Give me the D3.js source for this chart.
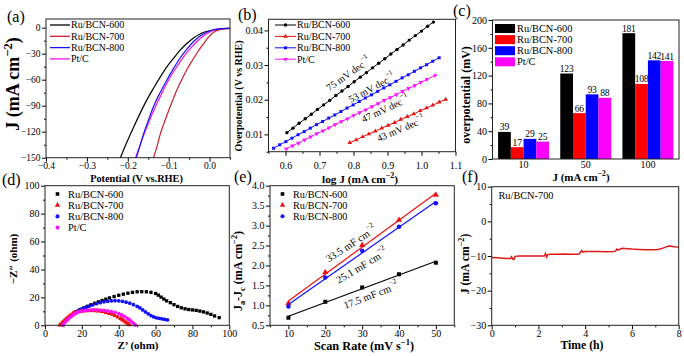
<!DOCTYPE html>
<html>
<head>
<meta charset="utf-8">
<script src="https://cdn.jsdelivr.net/npm/d3@7"></script>
<style>
    body { margin: 0; background: #fff; }
    svg { display: block; }
    svg text { font-family: "Liberation Serif", "Times New Roman", serif; }
</style>
</head>
<body>
<div id="chart"></div>
<script>
// ---- Data ----
const names = ['Ru/BCN-600', 'Ru/BCN-700', 'Ru/BCN-800', 'Pt/C'];
const colors = ['#000000', '#ee1010', '#1010ff', '#ff10ff'];

// (a) LSV curves
const lsvV600 = [-0.218, -0.202, -0.185, -0.169, -0.153, -0.136, -0.120, -0.104, -0.088, -0.072, -0.055, -0.039, -0.023, -0.012, 0.000, 0.013, 0.026, 0.038, 0.050];
const lsvJ600 = [-150, -132, -114, -98, -83, -69, -56.5, -45, -35.3, -26, -18, -11.8, -7.3, -5.0, -3.6, -2.4, -1.5, -1.0, -0.8];
const lsvV700 = [-0.137, -0.128, -0.120, -0.112, -0.104, -0.092, -0.080, -0.068, -0.056, -0.043, -0.031, -0.021, -0.011, -0.003, 0.005, 0.011, 0.017, 0.028, 0.042, 0.050];
const lsvJ700 = [-150, -136, -122, -111, -100.7, -86, -71.9, -60, -48.8, -38.5, -29.5, -22.5, -16.1, -11.2, -7.3, -5.0, -3.4, -2.0, -1.2, -1.0];
const lsvV800 = [-0.179, -0.170, -0.161, -0.149, -0.137, -0.121, -0.104, -0.088, -0.072, -0.056, -0.039, -0.027, -0.015, -0.006, 0.000, 0.010, 0.020, 0.030, 0.040, 0.050];
const lsvJ800 = [-150, -136, -122, -106, -91, -75, -60, -47, -35, -25, -16, -11, -7.3, -5.0, -3.8, -2.4, -1.6, -1.1, -0.9, -0.8];
const lsvVPt = [-0.181, -0.171, -0.161, -0.147, -0.132, -0.116, -0.100, -0.082, -0.064, -0.047, -0.031, -0.019, -0.008, 0.000, 0.006, 0.013, 0.022, 0.032, 0.042, 0.050];
const lsvJPt = [-150, -137, -124, -107, -91, -75, -60, -46.5, -34, -24, -16, -11, -7.3, -5.2, -3.8, -2.5, -1.6, -1.1, -0.9, -0.8];

// (b) Tafel
const tafX600 = [0.604, 0.622, 0.640, 0.658, 0.676, 0.694, 0.712, 0.730, 0.748, 0.766, 0.784, 0.802, 0.820, 0.838, 0.856, 0.874, 0.892, 0.910, 0.928, 0.946, 0.964, 0.982, 1.000, 1.018, 1.035];
const tafY600 = [0.0105, 0.0118, 0.0132, 0.0145, 0.0158, 0.0172, 0.0185, 0.0198, 0.0212, 0.0225, 0.0238, 0.0252, 0.0265, 0.0278, 0.0292, 0.0305, 0.0318, 0.0332, 0.0345, 0.0358, 0.0372, 0.0385, 0.0398, 0.0412, 0.0424];
const tafX700 = [0.789, 0.808, 0.827, 0.845, 0.864, 0.883, 0.902, 0.921, 0.939, 0.958, 0.977, 0.996, 1.015, 1.033, 1.052, 1.071];
const tafY700 = [0.0076, 0.0084, 0.0093, 0.0101, 0.0109, 0.0118, 0.0126, 0.0134, 0.0143, 0.0151, 0.0159, 0.0168, 0.0176, 0.0184, 0.0193, 0.0201];
const tafX800 = [0.565, 0.583, 0.601, 0.619, 0.637, 0.655, 0.673, 0.691, 0.709, 0.727, 0.745, 0.763, 0.781, 0.799, 0.817, 0.835, 0.853, 0.871, 0.889, 0.907, 0.925, 0.943, 0.961, 0.979, 0.997, 1.015, 1.033, 1.052];
const tafY800 = [0.0060, 0.0070, 0.0079, 0.0089, 0.0099, 0.0108, 0.0118, 0.0128, 0.0137, 0.0147, 0.0156, 0.0166, 0.0176, 0.0185, 0.0195, 0.0205, 0.0214, 0.0224, 0.0234, 0.0243, 0.0253, 0.0263, 0.0272, 0.0282, 0.0292, 0.0301, 0.0311, 0.0321];
const tafXPt = [0.602, 0.620, 0.638, 0.656, 0.674, 0.692, 0.710, 0.728, 0.746, 0.764, 0.782, 0.800, 0.818, 0.836, 0.854, 0.872, 0.890, 0.908, 0.926, 0.944, 0.962, 0.980, 0.998, 1.016, 1.040];
const tafYPt = [0.0058, 0.0067, 0.0075, 0.0084, 0.0093, 0.0102, 0.0110, 0.0119, 0.0128, 0.0137, 0.0145, 0.0154, 0.0163, 0.0171, 0.0180, 0.0189, 0.0198, 0.0206, 0.0215, 0.0224, 0.0233, 0.0241, 0.0250, 0.0259, 0.0270];
const tafelLabels = ['75 mV dec', '43 mV dec', '53 mV dec', '47 mV dec'];

// (c) overpotentials
const currents = ['10', '50', '100'];
const eta600 = [39, 123, 181];
const eta700 = [17, 66, 108];
const eta800 = [29, 93, 142];
const etaPt = [25, 88, 141];

// (d) Nyquist
const zRe600 = [17, 19, 21, 23, 25, 27, 29, 31, 33, 35, 37.5, 40, 42.5, 45, 47.5, 50, 52.5, 55, 57.5, 60, 61.5, 63, 64.5, 66, 68, 70, 72, 74, 76, 78, 80, 82, 84, 86, 88, 90, 92, 94.5];
const zIm600 = [9.8, 11.2, 12.4, 13.6, 14.7, 15.8, 16.8, 17.8, 18.7, 19.6, 20.6, 21.5, 22.3, 23, 23.6, 24, 24.1, 24, 23.6, 22.8, 21.6, 20.2, 18.8, 17.5, 16.2, 14.8, 13.5, 12.5, 11.8, 11.3, 11, 10.7, 10.2, 9.6, 8.8, 7.8, 6.7, 5.5];
const zRe700 = [8, 9, 10, 11, 12, 13, 14, 15, 16, 17.5, 19, 21, 23, 25, 27, 29, 31, 33, 35, 36.5, 38, 39.5, 41, 42, 43, 44, 45, 45.8];
const zIm700 = [0.2, 1.5, 2.8, 4.0, 5.2, 6.3, 7.3, 8.2, 8.9, 9.4, 9.8, 10.2, 10.4, 10.5, 10.4, 10.2, 9.8, 9.2, 8.5, 7.8, 6.9, 6.0, 4.9, 4.0, 3.0, 2.1, 1.2, 0.4];
const zRe800 = [16, 18, 20, 22, 24, 26, 28, 30, 32, 34, 36, 38, 40, 42, 44, 46, 48, 50, 51.5, 53, 54.5, 56, 57.5, 59, 60.5, 62, 63.5, 65, 66.5];
const zIm800 = [9, 10.5, 11.8, 12.8, 13.8, 14.7, 15.5, 16.2, 16.8, 17.2, 17.5, 17.6, 17.5, 17.2, 16.6, 15.8, 14.8, 13.6, 12.4, 11, 9.6, 8.2, 7.0, 6.0, 5.4, 5.0, 4.6, 4.2, 3.8];
const zRePt = [9.5, 10.5, 11.5, 12.5, 13.5, 14.5, 15.5, 16.5, 17.5, 19, 20.5, 22, 24, 26, 28, 30, 32, 34, 36, 38, 40, 41.5, 43, 44.5, 45.5, 46.5, 47.5, 48.5, 49];
const zImPt = [0.2, 1.6, 3.0, 4.3, 5.5, 6.6, 7.6, 8.5, 9.2, 9.9, 10.4, 10.7, 10.9, 11, 11, 10.9, 10.7, 10.3, 9.8, 9.2, 8.4, 7.5, 6.4, 5.2, 4.2, 3.1, 2.0, 0.9, 0.2];

// (e) double-layer capacitance
const scanRates = [10, 20, 30, 40, 50];
const dj600 = [0.69, 1.09, 1.45, 1.78, 2.07];
const dj700 = [1.05, 1.83, 2.51, 3.14, 3.77];
const dj800 = [0.97, 1.70, 2.37, 2.97, 3.56];
const cdlLabels = ['17.5 mF cm', '33.5 mF cm', '25.1 mF cm'];

// (f) stability
const timeH = [0, 0.2, 0.4, 0.6, 0.8, 0.85, 0.9, 0.95, 1.0, 1.2, 1.5, 1.8, 2.1, 2.25, 2.3, 2.35, 2.4, 2.5, 2.8, 3.1, 3.4, 3.7, 3.75, 3.8, 3.85, 3.9, 4.0, 4.3, 4.6, 4.9, 5.2, 5.3, 5.35, 5.4, 5.5, 5.6, 5.8, 6.0, 6.3, 6.6, 6.9, 7.1, 7.2, 7.3, 7.4, 7.5, 7.6, 7.7, 7.8, 8.0];
const jStab = [-10.4, -10.5, -10.6, -10.7, -10.7, -10.2, -10.9, -11.0, -10.1, -10.0, -10.0, -10.0, -10.0, -10.0, -9.3, -10.3, -9.6, -9.5, -9.5, -9.4, -9.5, -9.5, -9.4, -8.8, -8.4, -8.9, -8.7, -8.7, -8.7, -8.8, -8.7, -8.6, -8.0, -8.3, -8.0, -7.8, -7.9, -8.0, -8.1, -8.2, -8.2, -8.1, -8.0, -7.8, -7.5, -7.3, -7.1, -7.2, -7.3, -7.4];

// ---- Setup ----
const FONT = "'Liberation Serif', 'Times New Roman', serif";
const svg = d3.select('#chart').append('svg')
    .attr('width', 684)
    .attr('height', 356)
    .attr('font-family', FONT);

const zip = (xs, ys) => xs.map((v, i) => [v, ys[i]]);

// Text with super/subscript parts: [text, 0 normal | 1 super | -1 sub]
function richText(t, parts, fs) {
    let cur = 0;
    parts.forEach(([s, m]) => {
        const target = m === 1 ? -fs * 0.4 : (m === -1 ? fs * 0.25 : 0);
        const sp = t.append('tspan').text(s).attr('dy', target - cur);
        if (m !== 0) sp.attr('font-size', fs * 0.7);
        cur = target;
    });
    return t;
}

function label(x, y, parts, fs, opts = {}) {
    const t = svg.append('text')
        .attr('transform', `translate(${x},${y}) rotate(${opts.rotate || 0})`)
        .attr('text-anchor', opts.anchor || 'middle')
        .attr('font-size', fs)
        .attr('font-weight', opts.bold ? 'bold' : 'normal')
        .attr('fill', '#000');
    if (opts.middle) t.attr('dominant-baseline', 'central');
    return richText(t, parts, fs);
}

// Axes on left and bottom, ticks outward
function axes(x, y, o) {
    const g = svg.append('g');
    const yb = y.range()[0];
    const xl = x.range()[0];
    if (o.xMinor) g.append('g').attr('transform', `translate(0,${yb})`)
        .call(d3.axisBottom(x).tickValues(o.xMinor).tickSize(2).tickFormat(''));
    if (o.yMinor) g.append('g').attr('transform', `translate(${xl},0)`)
        .call(d3.axisLeft(y).tickValues(o.yMinor).tickSize(2).tickFormat(''));
    g.append('g').attr('transform', `translate(0,${yb})`)
        .call(d3.axisBottom(x).tickValues(o.xTicks).tickSize(o.xTickSize ?? 4).tickPadding(o.xPad ?? 0.5).tickFormat(o.xFmt));
    g.append('g').attr('transform', `translate(${xl},0)`)
        .call(d3.axisLeft(y).tickValues(o.yTicks).tickSize(4).tickPadding(1.5).tickFormat(o.yFmt));
    g.selectAll('.domain').remove();
    g.selectAll('g').attr('font-family', FONT).attr('font-size', o.fs || 10);
    g.selectAll('text').attr('fill', '#000');
    return g;
}

function frame(x, y) {
    const [x0, x1] = x.range();
    const [y1, y0] = y.range();
    svg.append('rect')
        .attr('x', x0).attr('y', y0)
        .attr('width', x1 - x0).attr('height', y1 - y0)
        .attr('fill', 'none')
        .attr('stroke', '#222')
        .attr('stroke-width', 1);
}

// ---- (a) LSV ----
{
    const x = d3.scaleLinear().domain([-0.4, 0.05]).range([46, 230]);
    const y = d3.scaleLinear().domain([-150, 10]).range([157.7, 19]);
    axes(x, y, {
        xTicks: [-0.4, -0.3, -0.2, -0.1, 0.0], xMinor: [-0.35, -0.25, -0.15, -0.05, 0.05],
        yTicks: [0, -30, -60, -90, -120, -150], yMinor: [-15, -45, -75, -105, -135],
        xFmt: d3.format('.1f'), yFmt: d3.format('d'), fs: 9.5
    });
    const series = [zip(lsvV600, lsvJ600), zip(lsvV700, lsvJ700), zip(lsvV800, lsvJ800), zip(lsvVPt, lsvJPt)];
    const lsvColors = ['#000000', '#c8202a', '#1414f0', '#f010f0'];
    const line = d3.line().x(d => x(d[0])).y(d => y(d[1])).curve(d3.curveMonotoneX);
    [0, 1, 3, 2].forEach(i => {
        svg.append('path').attr('d', line(series[i]))
            .attr('fill', 'none').attr('stroke', lsvColors[i]).attr('stroke-width', 1.2);
    });
    names.forEach((n, i) => {
        const yy = 25 + i * 11.3;
        svg.append('line').attr('x1', 50).attr('x2', 70).attr('y1', yy).attr('y2', yy)
            .attr('stroke', lsvColors[i]).attr('stroke-width', 1.3);
        label(71, yy + 3.3, [[n, 0]], 10, { anchor: 'start' });
    });
    frame(x, y);
    label(136.5, 181.5, [['Potential (V vs.RHE)', 0]], 10.3, { bold: true });
    label(19, 84, [['J (mA cm', 0], ['\u22122', 1], [')', 0]], 18, { bold: true, rotate: -90 });
    label(7, 22, [['(a)', 0]], 16, { anchor: 'start' });
}

// ---- (b) Tafel ----
{
    const x = d3.scaleLinear().domain([0.55, 1.1]).range([268.5, 455.5]);
    const y = d3.scaleLinear().domain([0.005, 0.0432]).range([151.7, 19.3]);
    axes(x, y, {
        xTicks: [0.6, 0.7, 0.8, 0.9, 1.0, 1.1], xMinor: [0.55, 0.65, 0.75, 0.85, 0.95, 1.05],
        yTicks: [0.01, 0.02, 0.03, 0.04], yMinor: [0.005, 0.015, 0.025, 0.035],
        xFmt: d3.format('.1f'), yFmt: d3.format('.2f'), xPad: 6
    });
    const series = [zip(tafX600, tafY600), zip(tafX700, tafY700), zip(tafX800, tafY800), zip(tafXPt, tafYPt)];
    const shapes = [d3.symbolCircle, d3.symbolTriangle, d3.symbolSquare, d3.symbolTriangle];
    const rot = [0, 0, 0, 180];
    const line = d3.line().x(d => x(d[0])).y(d => y(d[1]));
    series.forEach((s, i) => {
        svg.append('path').attr('d', line(s))
            .attr('fill', 'none').attr('stroke', colors[i]).attr('stroke-width', 1);
        svg.append('g').selectAll('path').data(s).join('path')
            .attr('d', d3.symbol(shapes[i], 9))
            .attr('transform', d => `translate(${x(d[0])},${y(d[1])}) rotate(${rot[i]})`)
            .attr('fill', colors[i]);
    });
    names.forEach((n, i) => {
        const yy = 25 + i * 11.4;
        svg.append('line').attr('x1', 275).attr('x2', 296).attr('y1', yy).attr('y2', yy)
            .attr('stroke', colors[i]).attr('stroke-width', 1);
        svg.append('path').attr('d', d3.symbol(shapes[i], 9))
            .attr('transform', `translate(285.5,${yy}) rotate(${rot[i]})`).attr('fill', colors[i]);
        label(297, yy + 3.3, [[n, 0]], 10, { anchor: 'start' });
    });
    // slope annotations (centre points)
    const ann = [[348, 73.5, -35, 0], [371.5, 87.5, -28, 2], [385, 108.3, -25, 3], [400.7, 128.3, -23, 1]];
    ann.forEach(([ax, ay, r, k]) => {
        label(ax, ay, [[tafelLabels[k], 0], ['\u22121', 1]], 10, { rotate: r, middle: true });
    });
    frame(x, y);
    label(360, 182.5, [['log J (mA cm', 0], ['\u22122', 1], [')', 0]], 11.3, { bold: true });
    label(242, 96, [['Overpotential (V vs RHE)', 0]], 10, { bold: true, rotate: -90 });
    label(238, 20, [['(b)', 0]], 16, { anchor: 'start' });
}

// ---- (c) Overpotential bars ----
{
    const x = d3.scaleBand().domain(currents).range([492.5, 679]).padding(0);
    const xs = d3.scaleBand().domain(names).range([x.bandwidth() * 0.09, x.bandwidth() * 0.91]).padding(0);
    const y = d3.scaleLinear().domain([0, 200]).range([159, 20]);
    axes(x, y, {
        xTicks: currents, yTicks: [0, 40, 80, 120, 160, 200], yMinor: [20, 60, 100, 140, 180],
        xFmt: d => d, yFmt: d3.format('d'), xTickSize: 0, xPad: 2
    });
    const barColors = ['#000000', '#ff0000', '#0000ff', '#ff00ff'];
    const vals = [eta600, eta700, eta800, etaPt];
    const rows = [];
    currents.forEach((c, ci) => names.forEach((n, si) => rows.push({ c, n, si, v: vals[si][ci] })));
    svg.append('g').selectAll('rect').data(rows).join('rect')
        .attr('x', d => x(d.c) + xs(d.n))
        .attr('y', d => y(d.v))
        .attr('width', xs.bandwidth())
        .attr('height', d => y(0) - y(d.v))
        .attr('fill', d => barColors[d.si]);
    svg.append('g').selectAll('text').data(rows).join('text')
        .attr('x', d => x(d.c) + xs(d.n) + xs.bandwidth() / 2)
        .attr('y', d => y(d.v) - 1.5)
        .attr('text-anchor', 'middle')
        .attr('font-size', 9.6)
        .attr('letter-spacing', -0.2)
        .text(d => d.v);
    names.forEach((n, i) => {
        const yy = 28.5 + i * 11.1;
        svg.append('rect').attr('x', 495).attr('y', yy - 4.5).attr('width', 20).attr('height', 9)
            .attr('fill', barColors[i]);
        label(517, yy + 3.5, [[n, 0]], 10.4, { anchor: 'start' });
    });
    frame(d3.scaleLinear().range([492.5, 679]), y);
    label(581, 180.5, [['J (mA cm', 0], ['\u22122', 1], [')', 0]], 11, { bold: true });
    label(470, 95, [['overpotential (mV)', 0]], 12, { bold: true, rotate: -90 });
    label(453, 16, [['(c)', 0]], 16, { anchor: 'start' });
}

// ---- (d) Nyquist ----
{
    const x = d3.scaleLinear().domain([0, 100]).range([45, 229.3]);
    const y = d3.scaleLinear().domain([0, 100]).range([325.3, 185.7]);
    axes(x, y, {
        xTicks: [0, 20, 40, 60, 80, 100], xMinor: [10, 30, 50, 70, 90],
        yTicks: [0, 20, 40, 60, 80, 100], yMinor: [10, 30, 50, 70, 90],
        xFmt: d3.format('d'), yFmt: d3.format('d')
    });
    const series = [zip(zRe600, zIm600), zip(zRe700, zIm700), zip(zRe800, zIm800), zip(zRePt, zImPt)];
    const shapes = [d3.symbolSquare, d3.symbolTriangle, d3.symbolCircle, d3.symbolCircle];
    [0, 2, 1, 3].forEach(i => {
        svg.append('g').selectAll('path').data(series[i]).join('path')
            .attr('d', d3.symbol(shapes[i], 11))
            .attr('transform', d => `translate(${x(d[0])},${y(d[1])})`)
            .attr('fill', colors[i]);
    });
    names.forEach((n, i) => {
        const yy = 194 + i * 11.2;
        svg.append('path').attr('d', d3.symbol(shapes[i], 13))
            .attr('transform', `translate(57.5,${yy})`).attr('fill', colors[i]);
        label(68, yy + 3.5, [[n, 0]], 10.4, { anchor: 'start' });
    });
    frame(x, y);
    label(138, 348.5, [['Z\u2019 (ohm)', 0]], 11, { bold: true });
    label(17, 259, [['\u2212Z\u2033 (ohm)', 0]], 11, { bold: true, rotate: -90 });
    label(2, 185, [['(d)', 0]], 16, { anchor: 'start' });
}

// ---- (e) Cdl ----
{
    const x = d3.scaleLinear().domain([5, 55]).range([270, 454.3]);
    const y = d3.scaleLinear().domain([0.5, 4.0]).range([325.3, 185.7]);
    axes(x, y, {
        xTicks: [10, 20, 30, 40, 50], xMinor: [5, 15, 25, 35, 45, 55],
        yTicks: [0.5, 1.0, 1.5, 2.0, 2.5, 3.0, 3.5, 4.0], yMinor: [0.75, 1.25, 1.75, 2.25, 2.75, 3.25, 3.75],
        xFmt: d3.format('d'), yFmt: d3.format('.1f')
    });
    const vals = [dj600, dj700, dj800];
    const shapes = [d3.symbolSquare, d3.symbolTriangle, d3.symbolCircle];
    vals.forEach((v, i) => {
        // least-squares fit line
        const mx = d3.mean(scanRates), my = d3.mean(v);
        const k = d3.sum(scanRates, (s, j) => (s - mx) * (v[j] - my)) / d3.sum(scanRates, s => (s - mx) ** 2);
        const fit = [10, 50].map(s => [s, my + k * (s - mx)]);
        svg.append('line')
            .attr('x1', x(fit[0][0])).attr('y1', y(fit[0][1]))
            .attr('x2', x(fit[1][0])).attr('y2', y(fit[1][1]))
            .attr('stroke', colors[i]).attr('stroke-width', 1.2);
        svg.append('g').selectAll('path').data(zip(scanRates, v)).join('path')
            .attr('d', d3.symbol(shapes[i], 16))
            .attr('transform', d => `translate(${x(d[0])},${y(d[1])})`)
            .attr('fill', colors[i]);
    });
    names.slice(0, 3).forEach((n, i) => {
        const yy = 194 + i * 11.1;
        svg.append('path').attr('d', d3.symbol(shapes[i], 13))
            .attr('transform', `translate(282.5,${yy})`).attr('fill', colors[i]);
        label(293, yy + 3.5, [[n, 0]], 10.2, { anchor: 'start' });
    });
    const ann = [[350.7, 243.5, -33, 1], [361.5, 265.5, -31, 2], [370.7, 295, -21, 0]];
    ann.forEach(([ax, ay, r, k]) => {
        label(ax, ay, [[cdlLabels[k], 0], ['\u22122', 1]], 10.4, { rotate: r, middle: true });
    });
    frame(x, y);
    label(364, 349.5, [['Scan Rate (mV s', 0], ['\u22121', 1], [')', 0]], 12.3, { bold: true });
    label(242, 271, [['J', 0], ['a', -1], ['-J', 0], ['c', -1], [' (mA cm', 0], ['\u22122', 1], [')', 0]], 12, { bold: true, rotate: -90 });
    label(234, 182, [['(e)', 0]], 16, { anchor: 'start' });
}

// ---- (f) Stability ----
{
    const x = d3.scaleLinear().domain([0, 8]).range([491.7, 678.7]);
    const y = d3.scaleLinear().domain([-30, 10]).range([325.3, 186.7]);
    axes(x, y, {
        xTicks: [0, 2, 4, 6, 8], xMinor: [1, 3, 5, 7],
        yTicks: [10, 0, -10, -20, -30], yMinor: [5, -5, -15, -25],
        xFmt: d3.format('d'), yFmt: d3.format('d')
    });
    const line = d3.line().x(d => x(d[0])).y(d => y(d[1]));
    svg.append('path').attr('d', line(zip(timeH, jStab)))
        .attr('fill', 'none').attr('stroke', '#e01818').attr('stroke-width', 1.5);
    label(498.5, 199, [['Ru/BCN-700', 0]], 10.3, { anchor: 'start' });
    frame(x, y);
    label(582, 349, [['Time (h)', 0]], 11.7, { bold: true });
    label(469, 264, [['J (mA cm', 0], ['\u22122', 1], [')', 0]], 11.7, { bold: true, rotate: -90 });
    label(462, 182, [['(f)', 0]], 16, { anchor: 'start' });
}
</script>
</body>
</html>
